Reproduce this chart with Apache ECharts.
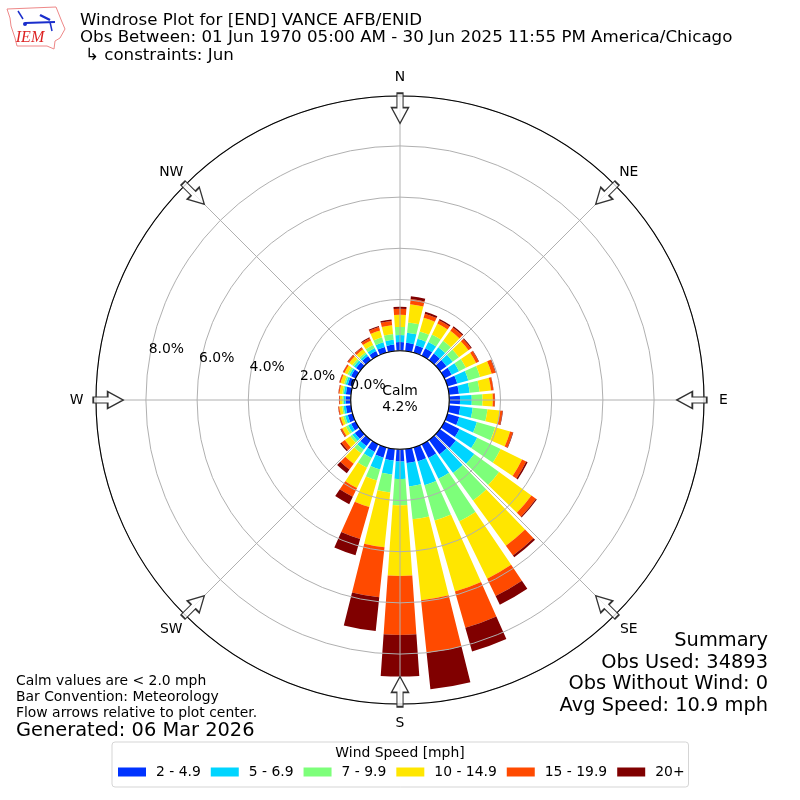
<!DOCTYPE html>
<html><head><meta charset="utf-8">
<script src="https://cdn.jsdelivr.net/npm/echarts@6/dist/echarts.min.js"></script>
<style>html,body{margin:0;background:#fff}#c{width:800px;height:800px}</style></head>
<body><div id="c"></div>
<script>
const directions = ['0','10','20','30','40','50','60','70','80','90','100','110','120','130','140','150','160','170','180','190','200','210','220','230','240','250','260','270','280','290','300','310','320','330','340','350'];
const speedBins = ['2 - 4.9','5 - 6.9','7 - 9.9','10 - 14.9','15 - 19.9','20+'];
const binColors = ['#0033ff','#00d5ff','#7dff7a','#ffe600','#ff4a00','#800000'];
// percent of observations per direction, per speed bin
const s2  = [.34,.32,.30,.32,.32,.32,.32,.40,.39,.42,.44,.48,.66,.77,.70,.60,.57,.55,.48,.45,.42,.33,.30,.26,.20,.20,.20,.20,.20,.20,.20,.20,.20,.20,.23,.25];
const s5  = [.27,.40,.26,.28,.30,.30,.32,.45,.42,.46,.49,.72,.77,.89,.90,.90,.97,.92,.68,.55,.48,.27,.18,.12,.13,.11,.09,.07,.08,.08,.08,.10,.09,.13,.19,.19];
const s7  = [.32,.40,.30,.32,.32,.30,.30,.48,.39,.42,.58,.74,1.02,1.20,1.33,1.85,1.43,1.29,1.03,.71,.45,.42,.17,.10,.10,.08,.06,.06,.06,.07,.08,.08,.08,.14,.20,.23];
const s10 = [.47,.72,.56,.48,.48,.46,.44,.47,.45,.40,.49,.61,.93,1.56,2.18,2.49,2.89,3.18,2.76,2.15,1.07,.88,.50,.26,.16,.10,.11,.09,.11,.14,.13,.15,.15,.19,.28,.34];
const s15 = [.24,.20,.16,.14,.16,.12,.11,.15,.09,.08,.10,.11,.18,.22,.47,.75,1.47,2.06,2.30,1.96,1.30,.38,.28,.16,.06,.05,.04,.03,.04,.05,.06,.07,.08,.10,.14,.17];
const s20 = [.08,.11,.08,.06,.05,.04,.02,.02,.01,.01,.02,.02,.06,.04,.09,.38,.96,1.44,1.63,1.33,.66,.32,.18,.06,.02,.01,.01,.01,.01,.01,.01,.02,.02,.04,.04,.06];
const speedSeries = [s2,s5,s7,s10,s15,s20];
const radialTicks = ['0.0','2.0','4.0','6.0','8.0'];
const compass = [['N',0],['NE',45],['E',90],['SE',135],['S',180],['SW',225],['W',270],['NW',315]];
const labelFont = 'DejaVu Sans';
const chart = echarts.init(document.getElementById('c'), null, {renderer:'canvas'});
const arrowPath = 'path://M50 0 L100 52 L68 52 L68 100 L32 100 L32 52 L0 52 Z';
const series = speedBins.map((name,i)=>({
  name, type:'bar', coordinateSystem:'polar', polarIndex:0, stack:'wind', barWidth:'80%',
  itemStyle:{color:binColors[i]}, emphasis:{disabled:true}, animation:false,
  data:speedSeries[i]
}));
series.push({
  type:'scatter', coordinateSystem:'polar', polarIndex:1, z:6, silent:true, animation:false, clip:false,
  symbol:arrowPath, symbolSize:[17,30],
  itemStyle:{color:'rgba(255,255,255,0.8)',borderColor:'#333',borderWidth:1.4,opacity:1},
  data:compass.map(c=>({value:[9.47,c[1]],symbolRotate:-(c[1]+180)}))
});
series.push({
  type:'scatter', coordinateSystem:'polar', polarIndex:1, z:6, silent:true, animation:false, clip:false,
  symbolSize:0, itemStyle:{opacity:1},
  data:compass.map(c=>{
    const a=c[1]*Math.PI/180;
    return {name:c[0],value:[9.95,c[1]],label:{show:true,position:'inside',formatter:'{b}',color:'#000',fontFamily:labelFont,fontSize:13.9,offset:[19.5*Math.sin(a),-19*Math.cos(a)+0.5]}};
  })
});
series.push({
  type:'scatter', coordinateSystem:'polar', polarIndex:1, z:6, silent:true, animation:false,
  symbolSize:0, itemStyle:{opacity:1},
  label:{show:true,position:'inside',formatter:'{b}',color:'#000',fontFamily:labelFont,fontSize:13.9,offset:[16.5,-6.5]},
  data:radialTicks.map(t=>({name:t+'%',value:[parseFloat(t),280]}))
});
chart.setOption({
  animation:false,
  backgroundColor:'#fff',
  polar:[{center:[400,400],radius:[49.3,304]},{center:[400,400],radius:[49.3,304]}],
  angleAxis:[
    {polarIndex:0,type:'category',data:directions,startAngle:95,clockwise:true,boundaryGap:true,
     axisLine:{show:false},axisTick:{show:false},axisLabel:{show:false},splitLine:{show:false},z:1},
    {polarIndex:1,type:'value',min:0,max:360,interval:45,startAngle:90,clockwise:true,
     axisLine:{show:true,lineStyle:{color:'#000',width:1.1}},axisTick:{show:false},axisLabel:{show:false},
     splitLine:{show:true,lineStyle:{color:'#b0b0b0',width:1}},z:4}
  ],
  radiusAxis:[
    {polarIndex:0,type:'value',min:0,max:9.95,axisLine:{show:false},axisTick:{show:false},axisLabel:{show:false},splitLine:{show:false},z:1},
    {polarIndex:1,type:'value',min:0,max:9.95,interval:2,axisLine:{show:false},axisTick:{show:false},axisLabel:{show:false},
     splitLine:{show:true,lineStyle:{color:'#b0b0b0',width:1}},z:3}
  ],
  legend:{
    show:true,left:112,top:742,padding:[23,4,8,6],itemGap:10,itemWidth:28,itemHeight:9,
    borderColor:'#d5d5d5',borderWidth:1,borderRadius:3,backgroundColor:'#fff',icon:'rect',
    data:speedBins,textStyle:{fontFamily:labelFont,fontSize:13.9,color:'#000',padding:[0,0,0,5]},selectedMode:false
  },
  series,
  graphic:[
    {type:'text',x:80,y:21,style:{text:'Windrose Plot for [END] VANCE AFB/ENID',verticalAlign:'middle',font:'16.67px "DejaVu Sans"',fill:'#000'}},
    {type:'text',x:80,y:38,style:{text:'Obs Between: 01 Jun 1970 05:00 AM - 30 Jun 2025 11:55 PM America/Chicago',verticalAlign:'middle',font:'16.67px "DejaVu Sans"',fill:'#000'}},
    {type:'text',x:85,y:56,style:{text:'↳ constraints: Jun',verticalAlign:'middle',font:'16.67px "DejaVu Sans"',fill:'#000'}},
    {type:'text',x:400,y:391,style:{text:'Calm',align:'center',verticalAlign:'middle',font:'13.9px "DejaVu Sans"',fill:'#000'}},
    {type:'text',x:400,y:407,style:{text:'4.2%',align:'center',verticalAlign:'middle',font:'13.9px "DejaVu Sans"',fill:'#000'}},
    {type:'text',x:768,y:641,style:{text:'Summary',align:'right',verticalAlign:'middle',font:'19.4px "DejaVu Sans"',fill:'#000'}},
    {type:'text',x:768,y:663,style:{text:'Obs Used: 34893',align:'right',verticalAlign:'middle',font:'19.4px "DejaVu Sans"',fill:'#000'}},
    {type:'text',x:768,y:684,style:{text:'Obs Without Wind: 0',align:'right',verticalAlign:'middle',font:'19.4px "DejaVu Sans"',fill:'#000'}},
    {type:'text',x:768,y:706,style:{text:'Avg Speed: 10.9 mph',align:'right',verticalAlign:'middle',font:'19.4px "DejaVu Sans"',fill:'#000'}},
    {type:'text',x:16,y:681,style:{text:'Calm values are < 2.0 mph',verticalAlign:'middle',font:'13.9px "DejaVu Sans"',fill:'#000'}},
    {type:'text',x:16,y:697,style:{text:'Bar Convention: Meteorology',verticalAlign:'middle',font:'13.9px "DejaVu Sans"',fill:'#000'}},
    {type:'text',x:16,y:713,style:{text:'Flow arrows relative to plot center.',verticalAlign:'middle',font:'13.9px "DejaVu Sans"',fill:'#000'}},
    {type:'text',x:16,y:731,style:{text:'Generated: 06 Mar 2026',verticalAlign:'middle',font:'19.4px "DejaVu Sans"',fill:'#000'}},
    {type:'text',x:400,y:753,z:1000,zlevel:1,style:{text:'Wind Speed [mph]',align:'center',verticalAlign:'middle',font:'13.9px "DejaVu Sans"',fill:'#000'}},
    // IEM logo
    {type:'polygon',shape:{points:[[7,9],[56,7],[58,12],[62,22],[65,29],[60,38],[55,41],[54,49],[47,46],[17,46],[15,38],[11,26],[10,18]]},style:{fill:'#fff',stroke:'#e88',lineWidth:1}},
    {type:'text',x:30,y:38,style:{text:'IEM',align:'center',verticalAlign:'middle',font:'italic 16px "Liberation Serif"',fill:'#d22'}},
    {type:'line',shape:{x1:25,y1:23,x2:55,y2:22},style:{stroke:'#1a2ecc',lineWidth:2}},
    {type:'line',shape:{x1:18,y1:11,x2:23,y2:19},style:{stroke:'#1a2ecc',lineWidth:1.5}},
    {type:'line',shape:{x1:40,y1:15,x2:50,y2:20},style:{stroke:'#1a2ecc',lineWidth:2.5}},
    {type:'line',shape:{x1:50,y1:22,x2:52,y2:31},style:{stroke:'#1a2ecc',lineWidth:1.5}},
    {type:'circle',shape:{cx:25,cy:24,r:2},style:{fill:'#1a2ecc'}}
  ]
});
</script></body></html>
